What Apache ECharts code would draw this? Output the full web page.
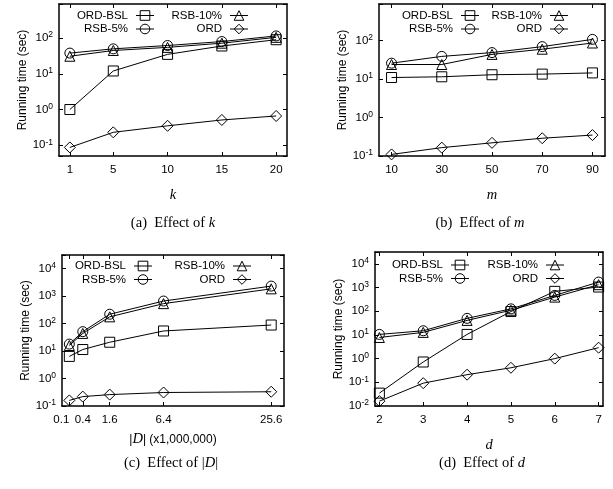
<!DOCTYPE html>
<html>
<head>
<meta charset="utf-8">
<script src="https://cdn.jsdelivr.net/npm/echarts@6/dist/echarts.min.js"></script>
<style>
  html, body { margin: 0; padding: 0; background: #fff; }
  #main { width: 613px; height: 489px; }
</style>
</head>
<body>
<div id="main"></div>
<script>
// series names (legend order is built from these)
const seriesNames = ['ORD-BSL', 'RSB-5%', 'RSB-10%', 'ORD'];

// (a) effect of k
const kValues = [1, 5, 10, 15, 20];
const kOrdBsl = [1.0, 12, 35, 60, 90];
const kRsb5 = [38, 50, 62, 80, 115];
const kRsb10 = [31, 45, 55, 72, 105];
const kOrd = [0.087, 0.23, 0.35, 0.51, 0.66];

// (b) effect of m
const mValues = [10, 30, 50, 70, 90];
const mOrdBsl = [11, 11.5, 13, 13.5, 14.5];
const mRsb5 = [26, 39, 49, 70, 108];
const mRsb10 = [24, 24, 44, 60, 87];
const mOrd = [0.11, 0.165, 0.22, 0.29, 0.35];

// (c) effect of |D|, in millions
const dbSizes = [0.1, 0.4, 1.6, 6.4, 25.6];
const dbOrdBsl = [6.4, 11.4, 21, 54, 89];
const dbRsb5 = [18, 51, 220, 665, 2330];
const dbRsb10 = [16, 44, 177, 535, 1850];
const dbOrd = [0.16, 0.22, 0.26, 0.31, 0.33];

// (d) effect of d
const dimValues = [2, 3, 4, 5, 6, 7];
const dimOrdBsl = [0.035, 0.72, 10.5, 97, 690, 1050];
const dimRsb5 = [10.5, 15, 50, 126, 465, 1700];
const dimRsb10 = [7.8, 12.8, 41, 110, 395, 1320];
const dimOrd = [0.016, 0.092, 0.21, 0.41, 1.0, 2.9];

const SANS = 'Liberation Sans, Arial, sans-serif';
const SERIF = 'Liberation Serif, Times New Roman, serif';

const symbolOf = { 'ORD-BSL': 'rect', 'RSB-5%': 'circle', 'RSB-10%': 'triangle', 'ORD': 'diamond' };
const symbolSizeOf = { 'ORD-BSL': 10, 'RSB-5%': 10, 'RSB-10%': 10, 'ORD': 11 };

// one entry per panel
const panels = [
  { grid: { left: 59, top: 4, width: 228, height: 152 },
    xMin: 0, xMax: 21, yMin: 0.05, yMax: 900,
    xs: kValues, ticks: kValues, ys: [kOrdBsl, kRsb5, kRsb10, kOrd],
    xName: '{it|k}', xGap: 32,
    legendLeft: [76, 170], legendTop: 9,
    caption: '(a)  Effect of {it|k}', capX: 173, capY: 223 },
  { grid: { left: 379, top: 4, width: 226, height: 152 },
    xMin: 5, xMax: 95, yMin: 0.1, yMax: 900,
    xs: mValues, ticks: mValues, ys: [mOrdBsl, mRsb5, mRsb10, mOrd],
    xName: '{it|m}', xGap: 32,
    legendLeft: [401, 490], legendTop: 9,
    caption: '(b)  Effect of {it|m}', capX: 480, capY: 223 },
  { grid: { left: 62, top: 255, width: 222, height: 151 },
    xMin: 0.144, xMax: 5.36, yMin: 0.1, yMax: Math.pow(10, 4.5),
    // |D| axis is drawn on a square-root scale
    xs: dbSizes.map(Math.sqrt), ticks: dbSizes.map(Math.sqrt), ys: [dbOrdBsl, dbRsb5, dbRsb10, dbOrd],
    xLabel: v => String(Math.round(v * v * 10) / 10),
    alignMin: 'right',
    xName: '|{it|D}| (x1,000,000)', xGap: 26,
    legendLeft: [74, 173], legendTop: 259.5,
    caption: '(c)  Effect of |{it|D}|', capX: 171, capY: 463 },
  { grid: { left: 375, top: 252, width: 228, height: 154 },
    xMin: 1.9, xMax: 7.1, yMin: 0.01, yMax: Math.pow(10, 4.5),
    xs: dimValues, ticks: dimValues, ys: [dimOrdBsl, dimRsb5, dimRsb10, dimOrd],
    xName: '{it|d}', xGap: 32,
    legendLeft: [391, 486], legendTop: 258.5,
    caption: '(d)  Effect of {it|d}', capX: 482, capY: 463 }
];

function powLabel(v) {
  const lg = Math.log10(v);
  const e = Math.round(lg);
  if (Math.abs(lg - e) > 1e-6) return '';
  return '10{sup|' + e + '}';
}

const boxLine = { show: true, onZero: false, lineStyle: { color: '#000', width: 1.5 } };
const tick = { show: true, inside: true, length: 4, lineStyle: { color: '#000', width: 1 } };

let grids = [], xAxes = [], yAxes = [], series = [], legends = [], texts = [];

panels.forEach((p, i) => {
  grids.push(Object.assign({ show: false, containLabel: false }, p.grid));

  // bottom x axis with labels
  xAxes.push({
    type: 'value', gridIndex: i, position: 'bottom', min: p.xMin, max: p.xMax,
    axisLine: boxLine, splitLine: { show: false },
    axisTick: Object.assign({ customValues: p.ticks }, tick),
    axisLabel: {
      customValues: p.ticks, margin: 8, color: '#000', fontFamily: SANS, fontSize: 11.5,
      showMinLabel: true, showMaxLabel: true, hideOverlap: false, interval: 0,
      alignMinLabel: p.alignMin || null,
      formatter: p.xLabel || (v => String(v))
    },
    name: p.xName, nameLocation: 'middle', nameGap: p.xGap,
    nameTextStyle: {
      color: '#000', fontFamily: SANS, fontSize: 12,
      rich: { it: { fontFamily: SERIF, fontStyle: 'italic', fontSize: 14.5, color: '#000' } }
    }
  });
  // mirrored top x axis
  xAxes.push({
    type: 'value', gridIndex: i, position: 'top', min: p.xMin, max: p.xMax,
    axisLine: boxLine, splitLine: { show: false },
    axisTick: Object.assign({ customValues: p.ticks }, tick),
    axisLabel: { show: false }
  });

  // left log axis
  yAxes.push({
    type: 'log', logBase: 10, gridIndex: i, position: 'left', min: p.yMin, max: p.yMax,
    axisLine: boxLine, splitLine: { show: false }, minorTick: { show: false },
    axisTick: tick,
    axisLabel: {
      margin: 6, color: '#000', fontFamily: SANS, fontSize: 11.5,
      formatter: powLabel,
      rich: { sup: { fontSize: 8.5, fontFamily: SANS, color: '#000', verticalAlign: 'top', padding: [0, 0, 6, 0] } }
    },
    name: 'Running time (sec)', nameLocation: 'middle', nameGap: 29,
    nameTextStyle: { color: '#000', fontFamily: SANS, fontSize: 12 }
  });
  // mirrored right log axis
  yAxes.push({
    type: 'log', logBase: 10, gridIndex: i, position: 'right', min: p.yMin, max: p.yMax,
    axisLine: boxLine, splitLine: { show: false },
    axisTick: tick, axisLabel: { show: false }
  });

  seriesNames.forEach((name, s) => {
    series.push({
      name: name, type: 'line', xAxisIndex: 2 * i, yAxisIndex: 2 * i,
      data: p.xs.map((x, j) => [x, p.ys[s][j]]),
      symbol: symbolOf[name], symbolSize: symbolSizeOf[name], showAllSymbol: true,
      lineStyle: { color: '#000', width: 1 },
      itemStyle: { color: 'rgba(255,255,255,0)', borderColor: '#000', borderWidth: 1 },
      emphasis: { disabled: true }, clip: false
    });
  });

  // two legend columns per panel: [ORD-BSL, RSB-5%] and [RSB-10%, ORD]
  [[seriesNames[0], seriesNames[1]], [seriesNames[2], seriesNames[3]]].forEach((names, c) => {
    legends.push({
      orient: 'vertical', left: p.legendLeft[c], top: p.legendTop, padding: 0,
      itemGap: 0.5, itemWidth: 18, itemHeight: 12, align: 'right', selectedMode: false,
      data: names,
      itemStyle: { color: 'rgba(255,255,255,0)', borderColor: '#000', borderWidth: 1 },
      lineStyle: { color: '#000', width: 1 },
      textStyle: {
        color: '#000', fontFamily: SANS, fontSize: 11.5, lineHeight: 13,
        width: 52, align: 'right', padding: [0, 3, 0, 0]
      }
    });
  });

  texts.push({
    type: 'text', x: p.capX, y: p.capY,
    style: {
      text: p.caption, align: 'center', verticalAlign: 'middle',
      fill: '#000', font: '14.5px ' + SERIF,
      rich: { it: { fontFamily: SERIF, fontStyle: 'italic', fontSize: 14.5, fill: '#000' } }
    }
  });
});

let myChart = echarts.init(document.getElementById('main'), null, { renderer: 'canvas' });
myChart.setOption({
  animation: false,
  backgroundColor: '#fff',
  grid: grids,
  xAxis: xAxes,
  yAxis: yAxes,
  legend: legends,
  series: series,
  graphic: texts
});
</script>
</body>
</html>
